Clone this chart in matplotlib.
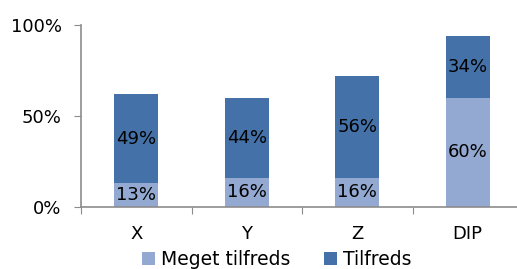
import numpy as np
import matplotlib.pyplot as plt

categories = ['X', 'Y', 'Z', 'DIP']
meget_tilfreds = [13, 16, 16, 60]
tilfreds = [49, 44, 56, 34]
y_ticks = [0, 50, 100]

light = '#93A9D1'
dark = '#4472A8'
grey = '#8C8C8C'


def main():
    plt.rcParams['font.family'] = ['DejaVu Sans']
    fig = plt.figure(figsize=(5.17, 2.69), dpi=100)
    ax = fig.add_axes([81 / 517, 62 / 269, 442 / 517, 182 / 269])

    x = np.arange(len(categories))
    b1 = ax.bar(x, meget_tilfreds, width=0.4, color=light, label='Meget tilfreds')
    b2 = ax.bar(x, tilfreds, width=0.4, bottom=meget_tilfreds, color=dark,
                label='Tilfreds')

    for bars, vals, bottoms in [(b1, meget_tilfreds, [0] * 4),
                                (b2, tilfreds, meget_tilfreds)]:
        for rect, v, b in zip(bars, vals, bottoms):
            ax.text(rect.get_x() + rect.get_width() / 2, b + v / 2, f'{v}%',
                    ha='center', va='center', fontsize=13, color='black')

    ax.set_xlim(-0.5, len(categories) - 0.5)
    ax.set_ylim(0, 100)
    ax.set_yticks(y_ticks)
    ax.set_yticklabels([f'{t}%' for t in y_ticks], fontsize=13)
    ax.set_xticks(np.arange(len(categories) + 1) - 0.5)
    ax.set_xticklabels([])
    ax.set_xticks(x, minor=True)
    ax.set_xticklabels(categories, minor=True, fontsize=13)
    ax.tick_params(axis='x', which='minor', length=0, pad=13)
    ax.tick_params(axis='x', which='major', length=5, direction='out',
                   color=grey)
    ax.tick_params(axis='y', length=5, color=grey, pad=9)

    for s in ['top', 'right']:
        ax.spines[s].set_visible(False)
    for s in ['left', 'bottom']:
        ax.spines[s].set_color(grey)
        ax.spines[s].set_linewidth(1.2)

    fig.legend(loc='center', bbox_to_anchor=(0.535, 0.035), ncol=2,
               frameon=False, fontsize=13.5, handlelength=0.7, handleheight=0.7,
               handletextpad=0.3, columnspacing=1.8)

    fig.savefig('out.png', dpi=100)
    plt.close(fig)


if __name__ == '__main__':
    main()
